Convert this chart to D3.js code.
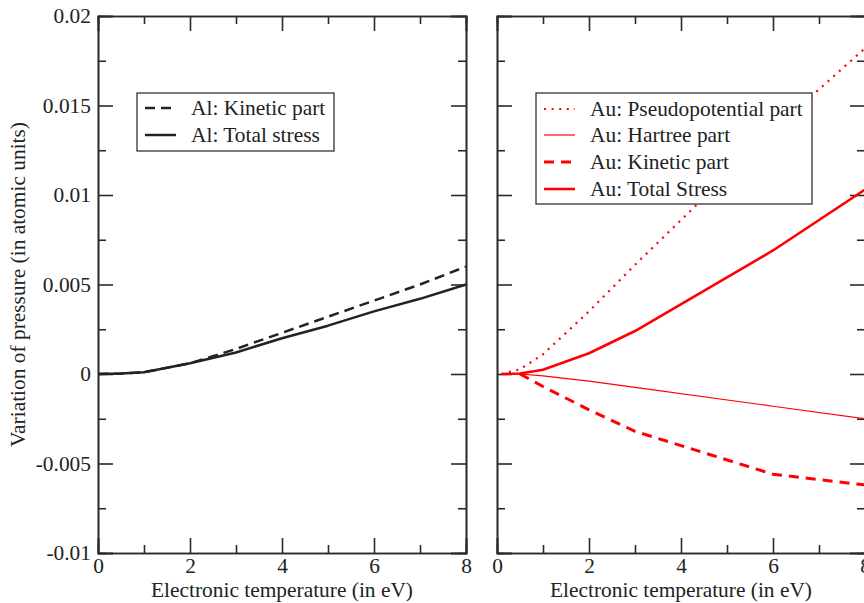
<!DOCTYPE html>
<html>
<head>
<meta charset="utf-8">
<script src="https://cdn.jsdelivr.net/npm/d3@7"></script>
<style>
  html, body { margin: 0; padding: 0; background: #fff; }
  svg { display: block; }
  text { font-family: "Liberation Serif", "Times New Roman", serif; fill: #222; }
</style>
</head>
<body>
<svg id="chart" width="864" height="603"></svg>
<script>
// ---- data ----
const alT = [0, 0.5, 1, 2, 3, 4, 5, 6, 7, 8];
const alKinetic = [0, 0.00003, 0.0001, 0.0006, 0.0014, 0.0023, 0.0032, 0.0041, 0.0050, 0.0060];
const alTotal   = [0, 0.00003, 0.0001, 0.0006, 0.0012, 0.0020, 0.0027, 0.0035, 0.0042, 0.0050];

const auT = [0.1, 0.5, 1, 2, 3, 6, 8];
const auPseudo  = [0, 0.00026, 0.0011, 0.0035, 0.0061, 0.0136, 0.0182];
const auHartree = [0, 0, -0.0001, -0.0004, -0.00075, -0.0018, -0.0025];
const auKinetic = [null, 0, -0.0007, -0.0020, -0.0032, -0.0056, -0.0062];
const auTotal   = [0, 0.00003, 0.00024, 0.00116, 0.0024, 0.0069, 0.0103];

const xMajor = [0, 2, 4, 6, 8];
const xMinor = [1, 3, 5, 7];
const yMajor = [-0.01, -0.005, 0, 0.005, 0.01, 0.015, 0.02];
const yMajorLabels = ["-0.01", "-0.005", "0", "0.005", "0.01", "0.015", "0.02"];
const yMinor = [-0.0075, -0.0025, 0.0025, 0.0075, 0.0125, 0.0175];

const xTitle = "Electronic temperature (in eV)";
const yTitle = "Variation of pressure (in atomic units)";

const alLegend = ["Al: Kinetic part", "Al: Total stress"];
const auLegend = ["Au: Pseudopotential part", "Au: Hartree part", "Au: Kinetic part", "Au: Total Stress"];

// ---- layout ----
const svg = d3.select("#chart");
const plotTop = 16, plotBottom = 553;
const y = d3.scaleLinear().domain([-0.01, 0.02]).range([plotBottom, plotTop]);
const FS = 21.4;
const axisColor = "#2a2a2a";

const panels = [
  { x0: 98, x1: 466, labels: true },
  { x0: 497, x1: 865, labels: false }
];

function styleAxis(g) {
  g.selectAll("path.domain").attr("stroke", axisColor).attr("stroke-width", 1.6);
  g.selectAll(".tick line").attr("stroke", axisColor).attr("stroke-width", 1.6);
  g.selectAll(".tick text").style("font-family", '"Liberation Serif", serif').style("font-size", FS + "px").attr("fill", "#222");
}

panels.forEach(p => {
  p.x = d3.scaleLinear().domain([0, 8]).range([p.x0, p.x1]);
  const x = p.x;
  // bottom
  svg.append("g").attr("transform", `translate(0,${plotBottom})`)
    .call(d3.axisBottom(x).tickValues(xMinor).tickSize(-8).tickFormat(""))
    .call(styleAxis);
  svg.append("g").attr("transform", `translate(0,${plotBottom})`)
    .call(d3.axisBottom(x).tickValues(xMajor).tickSize(-15).tickPadding(5).tickFormat(d3.format("d")))
    .call(styleAxis);
  // top
  svg.append("g").attr("transform", `translate(0,${plotTop})`)
    .call(d3.axisTop(x).tickValues(xMinor).tickSize(-8).tickFormat(""))
    .call(styleAxis);
  svg.append("g").attr("transform", `translate(0,${plotTop})`)
    .call(d3.axisTop(x).tickValues(xMajor).tickSize(-15).tickFormat(""))
    .call(styleAxis);
  // left
  svg.append("g").attr("transform", `translate(${p.x0},0)`)
    .call(d3.axisLeft(y).tickValues(yMinor).tickSize(-8).tickFormat(""))
    .call(styleAxis);
  svg.append("g").attr("transform", `translate(${p.x0},0)`)
    .call(d3.axisLeft(y).tickValues(yMajor).tickSize(-15).tickPadding(7)
      .tickFormat(p.labels ? ((d, i) => yMajorLabels[i]) : ""))
    .call(styleAxis);
  // right
  svg.append("g").attr("transform", `translate(${p.x1},0)`)
    .call(d3.axisRight(y).tickValues(yMinor).tickSize(-8).tickFormat(""))
    .call(styleAxis);
  svg.append("g").attr("transform", `translate(${p.x1},0)`)
    .call(d3.axisRight(y).tickValues(yMajor).tickSize(-15).tickFormat(""))
    .call(styleAxis);
  // x title
  svg.append("text").attr("x", (p.x0 + p.x1) / 2).attr("y", 597)
    .attr("text-anchor", "middle").style("font-size", FS + "px").text(xTitle);
});

// y title
svg.append("text")
  .attr("transform", `translate(25,${(plotTop + plotBottom) / 2}) rotate(-90)`)
  .attr("text-anchor", "middle").style("font-size", FS + "px").text(yTitle);

// ---- series ----
function drawSeries(p, T, vals, style) {
  const pts = T.map((t, i) => [t, vals[i]]).filter(d => d[1] !== null);
  const line = d3.line().x(d => p.x(d[0])).y(d => y(d[1]));
  svg.append("path").datum(pts).attr("d", line)
    .attr("fill", "none").attr("stroke", style.color)
    .attr("stroke-width", style.width)
    .attr("stroke-dasharray", style.dash || null)
    .attr("stroke-linejoin", "round");
}

const styles = {
  alKin: { color: "#222", width: 2.5, dash: "10,6" },
  alTot: { color: "#222", width: 2.5 },
  auPse: { color: "#ff0000", width: 2.2, dash: "2,5.6" },
  auHar: { color: "#ff0000", width: 1.2 },
  auKin: { color: "#ff0000", width: 3, dash: "10,7" },
  auTot: { color: "#ff0000", width: 2.6 }
};

const L = panels[0], R = panels[1];
drawSeries(L, alT, alKinetic, styles.alKin);
drawSeries(L, alT, alTotal, styles.alTot);
drawSeries(R, auT, auPseudo, styles.auPse);
drawSeries(R, auT, auHartree, styles.auHar);
drawSeries(R, auT, auKinetic, styles.auKin);
drawSeries(R, auT, auTotal, styles.auTot);

// ---- legends ----
function legend(box, items, itemStyles, rowY) {
  svg.append("rect").attr("x", box.x).attr("y", box.y).attr("width", box.w).attr("height", box.h)
    .attr("fill", "#fff").attr("stroke", "#333").attr("stroke-width", 1.3);
  items.forEach((label, i) => {
    const s = itemStyles[i];
    svg.append("line").attr("x1", box.x + 8).attr("x2", box.x + 39)
      .attr("y1", rowY[i]).attr("y2", rowY[i])
      .attr("stroke", s.color).attr("stroke-width", s.width)
      .attr("stroke-dasharray", s.dash || null);
    svg.append("text").attr("x", box.x + 54).attr("y", rowY[i])
      .attr("dy", "0.33em").style("font-size", FS + "px").text(label);
  });
}

legend({ x: 137, y: 93, w: 197, h: 58 }, alLegend, [styles.alKin, styles.alTot], [108, 135]);
legend({ x: 536, y: 93, w: 276, h: 111 }, auLegend,
  [styles.auPse, styles.auHar, styles.auKin, styles.auTot], [109, 135, 162, 189]);
</script>
</body>
</html>
